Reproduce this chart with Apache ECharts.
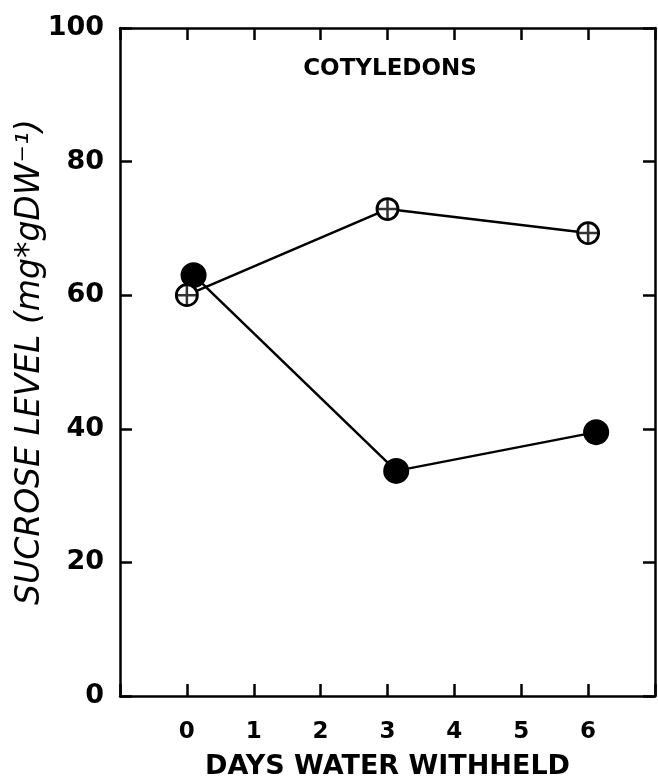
<!DOCTYPE html>
<html><head><meta charset="utf-8">
<script src="https://cdn.jsdelivr.net/npm/echarts@6/dist/echarts.min.js"></script>
<style>html,body{margin:0;padding:0;background:#fff}#c{width:658px;height:782px}</style>
</head><body><div id="c"></div>
<script>
const xTicks = [0,1,2,3,4,5,6];
const yTicks = [0,20,40,60,80,100];
const wateredDays = [0, 3, 6];
const wateredSucrose = [60.0, 72.9, 69.3];
const stressedDays = [0.1, 3.13, 6.12];
const stressedSucrose = [63.0, 33.7, 39.5];
const title = 'COTYLEDONS';
const xName = 'DAYS WATER WITHHELD';
const yName = 'SUCROSE LEVEL (mg*gDW⁻¹)';

const openPts = wateredDays.map((d,i)=>[d, wateredSucrose[i]]);
const filledPts = stressedDays.map((d,i)=>[d, stressedSucrose[i]]);
const font = 'DejaVu Sans';
const grid = {left:120, right:3, top:28, bottom:86, containLabel:false, outerBoundsMode:'none'};
const chart = echarts.init(document.getElementById('c'));
const axisLine = {show:true, onZero:false, lineStyle:{color:'#000', width:2.5}};
const tick = {show:true, inside:true, length:12, lineStyle:{color:'#000', width:2.5}};
chart.setOption({
  backgroundColor:'#fff',
  animation:false,
  title:{text:title, left:385, top:53, textAlign:'center',
    textStyle:{fontFamily:font, fontSize:23, fontWeight:'bold', color:'#000'}},
  grid:grid,
  xAxis:[{
    type:'value', min:-1, max:7, interval:1, position:'bottom',
    axisLine:axisLine, axisTick:tick, splitLine:{show:false},
    axisLabel:{margin:25, fontFamily:font, fontSize:23, fontWeight:'bold', color:'#000',
      formatter:v=>xTicks.includes(v)?String(v):''},
    name:xName, nameLocation:'middle', nameGap:57, nameMoveOverlap:false,
    nameTextStyle:{fontFamily:font, fontSize:27, fontWeight:'bold', color:'#000'}
  },{
    type:'value', min:-1, max:7, interval:1, position:'top',
    axisLine:axisLine, axisTick:tick, axisLabel:{show:false}, splitLine:{show:false}
  }],
  yAxis:[{
    type:'value', min:0, max:100, interval:20, position:'left',
    axisLine:axisLine, axisTick:tick, splitLine:{show:false},
    axisLabel:{margin:16, fontFamily:font, fontSize:27, fontWeight:'bold', color:'#000',
      formatter:v=>yTicks.includes(v)?String(v):''},
    name:yName, nameLocation:'middle', nameGap:73, nameRotate:90, nameMoveOverlap:false,
    nameTextStyle:{fontFamily:font, fontStyle:'italic', fontSize:33, color:'#000'}
  },{
    type:'value', min:0, max:100, interval:20, position:'right',
    axisLine:axisLine, axisTick:tick, axisLabel:{show:false}, splitLine:{show:false}
  }],
  series:[{
    type:'line', data:filledPts, symbol:'circle', symbolSize:26,
    lineStyle:{color:'#000', width:2.5}, itemStyle:{color:'#000'}, z:2
  },{
    type:'line', data:openPts, symbol:'circle', symbolSize:21,
    lineStyle:{color:'#000', width:2.5},
    itemStyle:{color:'#fff', borderColor:'#000', borderWidth:2.8}, z:3
  },{
    type:'scatter', data:openPts, symbol:'path://M0,-10L0,10M-10,0L10,0', symbolSize:19,
    itemStyle:{color:'none', borderColor:'#000', borderWidth:2.5}, z:4
  }]
});
</script></body></html>
